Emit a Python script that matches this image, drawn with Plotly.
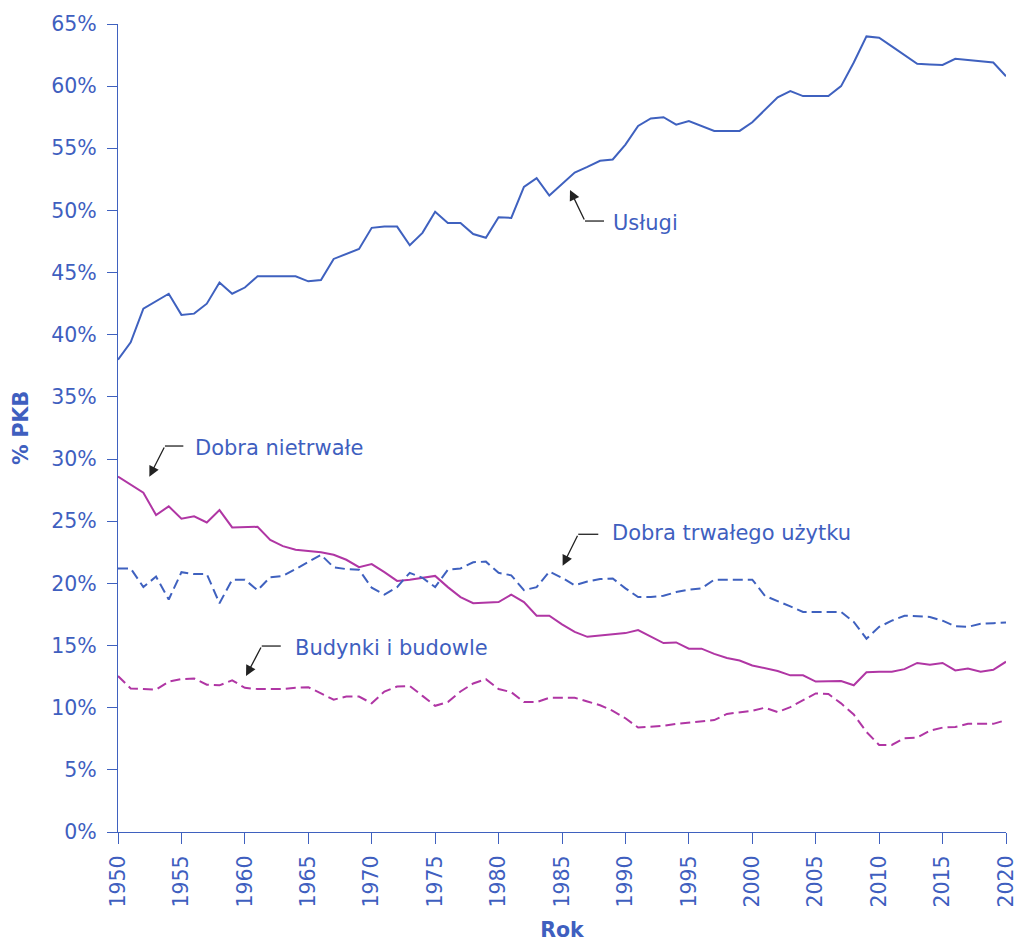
import plotly.graph_objects as go

years = list(range(1950, 2021))

uslugi = [38.0, 39.4, 42.1, 42.7, 43.3, 41.6, 41.7, 42.5, 44.2, 43.3,
          43.8, 44.7, 44.7, 44.7, 44.7, 44.3, 44.4, 46.1, 46.5, 46.9,
          48.6, 48.7, 48.7, 47.2, 48.2, 49.9, 49.0, 49.0, 48.1, 47.8,
          49.45, 49.4, 51.9, 52.6, 51.2, 52.1, 53.05, 53.5, 54.0, 54.1,
          55.3, 56.8, 57.4, 57.5, 56.9, 57.2, 56.8, 56.4, 56.4, 56.4,
          57.1, 58.1, 59.1, 59.6, 59.2, 59.2, 59.2, 60.0, 61.9, 64.0,
          63.9, 63.2, 62.5, 61.8, 61.75, 61.7, 62.2, 62.1, 62.0, 61.9,
          60.8]

nietrwale = [28.6, 27.95, 27.3, 25.5, 26.2, 25.2, 25.4, 24.9, 25.9, 24.5,
             24.5, 24.55, 23.5, 23.0, 22.7, 22.6, 22.5, 22.3, 21.9, 21.3,
             21.55, 20.9, 20.2, 20.3, 20.45, 20.6, 19.7, 18.9, 18.4, 18.45,
             18.5, 19.1, 18.5, 17.4, 17.4, 16.7, 16.1, 15.7, 15.8, 15.9,
             16.0, 16.25, 15.7, 15.2, 15.25, 14.75, 14.75, 14.33, 14.0, 13.8,
             13.4, 13.2, 12.95, 12.6, 12.6, 12.1, 12.1, 12.15, 11.8, 12.85,
             12.9, 12.9, 13.1, 13.6, 13.45, 13.6, 13.0, 13.15, 12.9, 13.05,
             13.7]

trwale = [21.2, 21.2, 19.7, 20.55, 18.7, 20.9, 20.75, 20.75, 18.4, 20.3,
          20.3, 19.45, 20.5, 20.6, 21.15, 21.75, 22.3, 21.3, 21.15, 21.1,
          19.65, 19.1, 19.7, 20.85, 20.45, 19.7, 21.1, 21.2, 21.7, 21.75,
          20.85, 20.65, 19.45, 19.7, 20.95, 20.45, 19.85, 20.15, 20.35, 20.4,
          19.6, 18.9, 18.9, 19.0, 19.3, 19.5, 19.6, 20.3, 20.3, 20.3,
          20.3, 19.0, 18.6, 18.15, 17.7, 17.7, 17.7, 17.7, 16.9, 15.55,
          16.5, 17.0, 17.4, 17.35, 17.3, 17.0, 16.55, 16.5, 16.75, 16.8,
          16.85]

budynki = [12.55, 11.55, 11.5, 11.45, 12.1, 12.3, 12.35, 11.85, 11.8, 12.2,
           11.6, 11.5, 11.5, 11.5, 11.6, 11.65, 11.15, 10.65, 10.9, 10.9,
           10.35, 11.3, 11.7, 11.75, 10.95, 10.15, 10.45, 11.3, 11.95, 12.3,
           11.5, 11.25, 10.45, 10.45, 10.8, 10.8, 10.8, 10.5, 10.2, 9.75,
           9.15, 8.4, 8.45, 8.55, 8.7, 8.8, 8.95, 9.0, 9.5, 9.65,
           9.75, 10.0, 9.65, 10.05, 10.6, 11.15, 11.1, 10.35, 9.45, 8.05,
           7.0, 7.0, 7.55, 7.6, 8.15, 8.4, 8.45, 8.7, 8.7, 8.7,
           9.0]

x_ticks = list(range(1950, 2021, 5))
y_ticks = list(range(0, 66, 5))
y_tick_labels = [f"{v}%" for v in y_ticks]

BLUE = "#3f61bf"
MAGENTA = "#b036a4"
TEXT = "#3f5fbf"
ARROW = "#222222"
FONT = "DejaVu Sans"

fig = go.Figure()
fig.add_trace(go.Scatter(x=years, y=uslugi, mode="lines", name="Usługi",
                         line=dict(color=BLUE, width=2)))
fig.add_trace(go.Scatter(x=years, y=nietrwale, mode="lines", name="Dobra nietrwałe",
                         line=dict(color=MAGENTA, width=2)))
fig.add_trace(go.Scatter(x=years, y=trwale, mode="lines", name="Dobra trwałego użytku",
                         line=dict(color=BLUE, width=2, dash="10px,5px")))
fig.add_trace(go.Scatter(x=years, y=budynki, mode="lines", name="Budynki i budowle",
                         line=dict(color=MAGENTA, width=2, dash="10px,5px")))

# labels: (text, tip_x, tip_y, elbow_x, elbow_y, hend_x, text_x, text_y)
labels = [
    ("Usługi", 1985.63, 51.65, 1986.81, 49.15, 1988.31, 1988.86, 49.0),
    ("Dobra nietrwałe", 1952.47, 28.58, 1953.70, 31.05, 1955.15, 1955.91, 30.9),
    ("Dobra trwałego użytku", 1985.05, 21.42, 1986.28, 23.95, 1987.86, 1988.78, 24.05),
    ("Budynki i budowle", 1960.09, 12.55, 1961.33, 14.96, 1962.83, 1963.80, 14.82),
]
for text, tx, ty, ex, ey, hx, lx, ly in labels:
    fig.add_annotation(x=tx, y=ty, ax=ex, ay=ey, axref="x", ayref="y",
                       xref="x", yref="y", text="", showarrow=True,
                       arrowhead=2, arrowsize=1.6, arrowwidth=1.3, arrowcolor=ARROW)
    fig.add_shape(type="line", x0=ex, y0=ey, x1=hx, y1=ey, xref="x", yref="y",
                  line=dict(color=ARROW, width=1.3))
    fig.add_annotation(x=lx, y=ly, xref="x", yref="y", text=text, showarrow=False,
                       xanchor="left", yanchor="middle",
                       font=dict(family=FONT, size=21, color=TEXT))

fig.update_layout(
    width=1017, height=942,
    margin=dict(l=118, r=11, t=24, b=110),
    paper_bgcolor="white", plot_bgcolor="white",
    showlegend=False,
    font=dict(family=FONT, size=20.5, color=TEXT),
)
fig.update_xaxes(
    range=[1950, 2020], tickvals=x_ticks, ticktext=[str(v) for v in x_ticks],
    tickangle=-90, ticks="outside", ticklen=11, tickwidth=1.3, tickcolor=BLUE,
    showline=True, linecolor=BLUE, linewidth=1.3, showgrid=False, zeroline=False,
    ticklabelstandoff=3, automargin=False, ticklabeloverflow="allow",
    tickfont=dict(family=FONT, size=20.5, color=TEXT),
    title=dict(text="<b>Rok</b>", font=dict(family=FONT, size=20.5, color=TEXT), standoff=24),
)
fig.update_yaxes(
    range=[0, 65], tickvals=y_ticks, ticktext=y_tick_labels,
    ticks="outside", ticklen=10, tickwidth=1.3, tickcolor=BLUE,
    showline=True, linecolor=BLUE, linewidth=1.3, showgrid=False, zeroline=False,
    ticklabelstandoff=6, automargin=False, ticklabeloverflow="allow",
    tickfont=dict(family=FONT, size=20.5, color=TEXT),
    title=dict(text="<b>% PKB</b>", font=dict(family=FONT, size=20.5, color=TEXT), standoff=16),
)

fig.write_html("out.html", config={"displayModeBar": False},
               post_script="document.body.style.margin='0';document.body.style.overflow='hidden';")
